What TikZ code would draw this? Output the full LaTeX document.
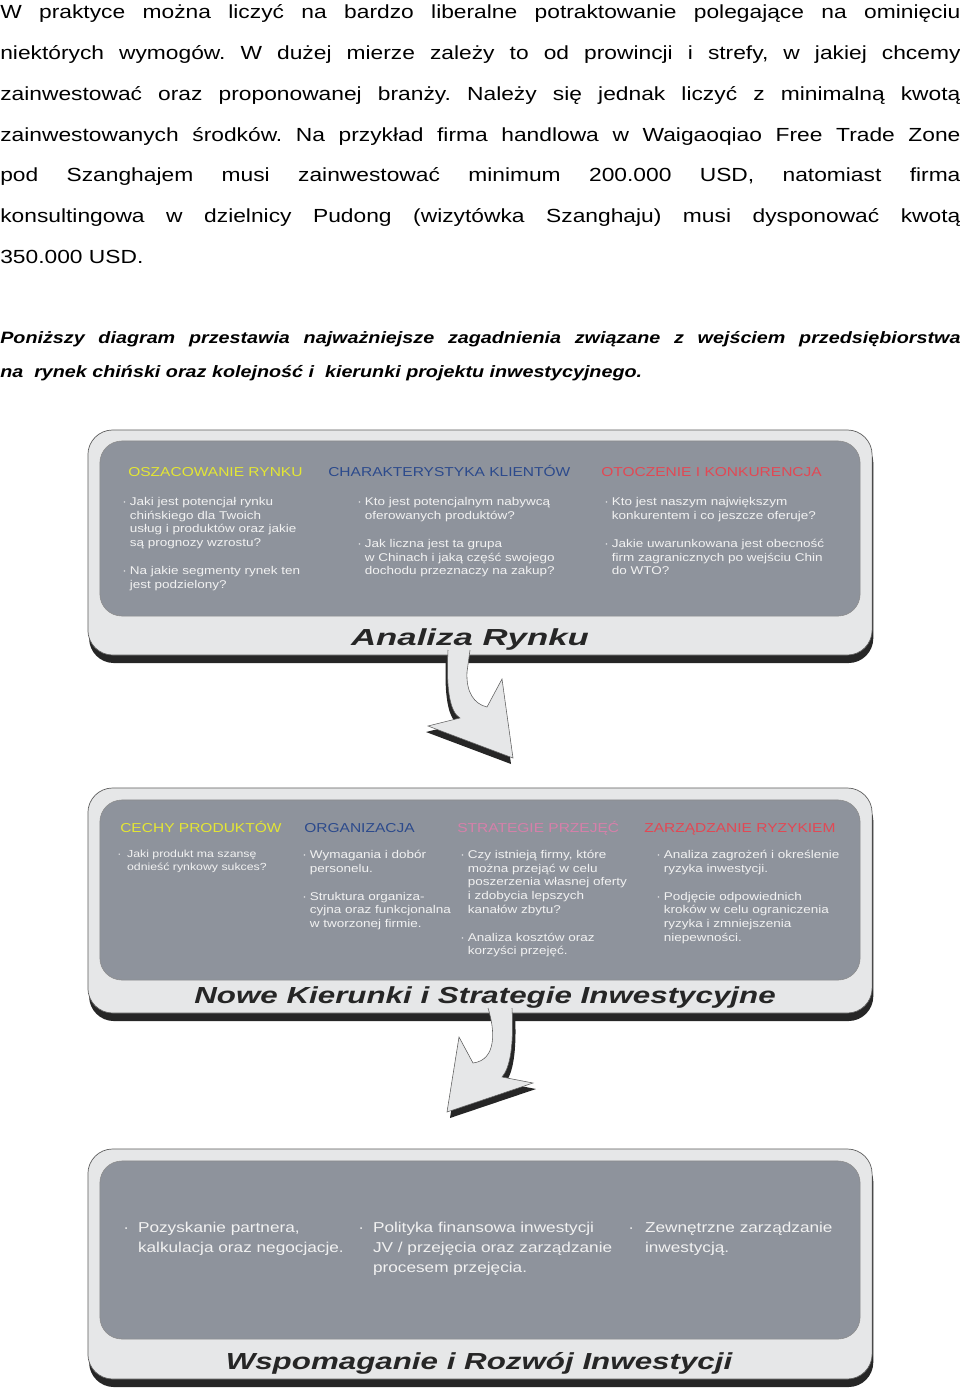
\documentclass[tikz,border=0pt]{standalone}
\usepackage{fontspec}
\setmainfont{Liberation Sans}[FakeStretch=1.2]
\newfontfamily\titlefont{Liberation Sans}[FakeStretch=1.35]
\newfontfamily\widetitlefont{Liberation Sans}[FakeStretch=1.5]
\usetikzlibrary{shadows}
\tolerance=9999
\hyphenpenalty=10000
\frenchspacing

\definecolor{panelLight}{RGB}{230,231,232}
\definecolor{panelDark}{RGB}{142,147,156}
\definecolor{rimGray}{RGB}{95,95,95}
\definecolor{headYellow}{RGB}{228,230,52}
\definecolor{headBlue}{RGB}{44,74,140}
\definecolor{headRed}{RGB}{226,72,84}
\definecolor{headPink}{RGB}{214,128,170}

% bullet dot and hanging indent for the questions
\newcommand\qdot[1][0.19cm]{\makebox[#1][l]{·}}
\newcommand\qind[1][0.19cm]{\hspace*{#1}}

\begin{document}
\begin{tikzpicture}[
  x=0.025cm, y=-0.025cm,
  bodyText/.style={anchor=north west, inner sep=0pt, text width=24cm, align=justify,
                   font=\fontsize{13.5}{29}\selectfont},
  leadText/.style={bodyText, font=\fontsize{11.7}{24.1}\selectfont\bfseries\itshape},
  outerBox/.style={draw=rimGray, line width=0.5pt, fill=panelLight, rounded corners=0.62cm,
                   minimum width=19.6cm,
                   drop shadow={shadow xshift=0.03cm, shadow yshift=-0.2cm, fill=black!85, opacity=1}},
  innerBox/.style={draw=black!45, line width=0.4pt, fill=panelDark, rounded corners=0.55cm,
                   minimum width=19cm},
  panelTitle/.style={anchor=base, inner sep=0pt, text=black!85,
                     font=\titlefont\fontsize{16.5}{20}\selectfont\bfseries\itshape},
  heading/.style={anchor=base west, inner sep=0pt, font=\fontsize{9.2}{11}\selectfont},
  question/.style={anchor=north west, inner sep=0pt, align=left, text=white!95!black,
                   font=\fontsize{8}{9.7}\selectfont},
  bigQuestion/.style={question, font=\fontsize{10.2}{14.2}\selectfont},
  arrowBody/.style={fill=panelLight, draw=rimGray, line width=0.4pt},
  arrowShadow/.style={fill=black!85},
]
\useasboundingbox (0,0) rectangle (960,1390);

% text above the diagram
\node[bodyText] (intro) at (0,4.5) {W praktyce można liczyć na bardzo liberalne potraktowanie polegające na ominięciu\linebreak
niektórych wymogów. W dużej mierze zależy to od prowincji i strefy, w jakiej chcemy\linebreak
zainwestować oraz proponowanej branży. Należy się jednak liczyć z minimalną kwotą\linebreak
zainwestowanych środków. Na przykład firma handlowa w Waigaoqiao Free Trade Zone\linebreak
pod Szanghajem musi zainwestować minimum 200.000 USD, natomiast firma\linebreak
konsultingowa w dzielnicy Pudong (wizytówka Szanghaju) musi dysponować kwotą\linebreak
350.000 USD.};
\node[leadText] (lead) at (0,331) {Poniższy diagram przestawia najważniejsze zagadnienia związane z wejściem przedsiębiorstwa\linebreak
na\ \ rynek chiński oraz kolejność i\ \ kierunki projektu inwestycyjnego.};

% panels
\node[outerBox, minimum height=5.625cm] (rynekPanel) at (480,542.5) {};
\node[innerBox, minimum height=4.375cm] (rynekInner) at (480,528.5) {};
\node[outerBox, minimum height=5.625cm] (strategiaPanel) at (480,900.5) {};
\node[innerBox, minimum height=4.5cm] (strategiaInner) at (480,890) {};
\node[outerBox, minimum height=5.75cm] (rozwojPanel) at (480,1264) {};
\node[innerBox, minimum height=4.45cm] (rozwojInner) at (480,1250) {};

% curved block arrows
\fill[arrowShadow, shift={(-2,6)}] (448,650) .. controls (446,690) and (450,712) .. (460,718)
  -- (428,726) -- (513,758) -- (502,679) -- (487,707)
  .. controls (474,704) and (466,692) .. (467,672) -- (470,650);
\filldraw[arrowBody] (448,650) .. controls (446,690) and (450,712) .. (460,718)
  -- (428,726) -- (513,758) -- (502,679) -- (487,707)
  .. controls (474,704) and (466,692) .. (467,672) -- (470,650);
\fill[arrowShadow, shift={(3,6)}] (488,1008) .. controls (495,1030) and (497,1060) .. (473,1063)
  -- (459,1037) -- (447,1112) -- (533,1083) -- (502,1077)
  .. controls (510,1068) and (514,1045) .. (512,1008);
\filldraw[arrowBody] (488,1008) .. controls (495,1030) and (497,1060) .. (473,1063)
  -- (459,1037) -- (447,1112) -- (533,1083) -- (502,1077)
  .. controls (510,1068) and (514,1045) .. (512,1008);

% panel 1
\node[heading, text=headYellow] (rynekHeadA) at (128,476.7) {OSZACOWANIE RYNKU};
\node[heading, text=headBlue]   (rynekHeadB) at (328,476.7) {CHARAKTERYSTYKA KLIENTÓW};
\node[heading, text=headRed]    (rynekHeadC) at (601,476.7) {OTOCZENIE I KONKURENCJA};
\node[question] (rynekQA) at (122,497) {\qdot Jaki jest potencjał rynku\\ \qind chińskiego dla Twoich\\
  \qind usług i produktów oraz jakie\\ \qind są prognozy wzrostu?\\[10.5pt]
  \qdot Na jakie segmenty rynek ten\\ \qind jest podzielony?};
\node[question] (rynekQB) at (357,497) {\qdot Kto jest potencjalnym nabywcą\\ \qind oferowanych produktów?\\[10.5pt]
  \qdot Jak liczna jest ta grupa\\ \qind w Chinach i jaką część swojego\\ \qind dochodu przeznaczy na zakup?};
\node[question] (rynekQC) at (604,497) {\qdot Kto jest naszym największym\\ \qind konkurentem i co jeszcze oferuje?\\[10.5pt]
  \qdot Jakie uwarunkowana jest obecność\\ \qind firm zagranicznych po wejściu Chin\\ \qind do WTO?};
\node[panelTitle, font=\widetitlefont\fontsize{16.5}{20}\selectfont\bfseries\itshape] (rynekTitle) at (470,645) {Analiza Rynku};

% panel 2
\node[heading, text=headYellow] (strategiaHeadA) at (120,832.7) {CECHY PRODUKTÓW};
\node[heading, text=headBlue]   (strategiaHeadB) at (304,832.7) {ORGANIZACJA};
\node[heading, text=headPink]   (strategiaHeadC) at (457,832.7) {STRATEGIE PRZEJĘĆ};
\node[heading, text=headRed]    (strategiaHeadD) at (644,832.7) {ZARZĄDZANIE RYZYKIEM};
\node[question, font=\fontsize{7.3}{9.4}\selectfont] (strategiaQA) at (117,850)
  {\qdot[0.16cm] Jaki produkt ma szansę\\ \qind[0.16cm] odnieść rynkowy sukces?};
\node[question] (strategiaQB) at (302,850) {\qdot Wymagania i dobór\\ \qind personelu.\\[10.3pt]
  \qdot Struktura organiza-\\ \qind cyjna oraz funkcjonalna\\ \qind w tworzonej firmie.};
\node[question] (strategiaQC) at (460,850) {\qdot Czy istnieją firmy, które\\ \qind można przejąć w celu\\
  \qind poszerzenia własnej oferty\\ \qind i zdobycia lepszych\\ \qind kanałów zbytu?\\[10.3pt]
  \qdot Analiza kosztów oraz\\ \qind korzyści przejęć.};
\node[question] (strategiaQD) at (656,850) {\qdot Analiza zagrożeń i określenie\\ \qind ryzyka inwestycji.\\[10.3pt]
  \qdot Podjęcie odpowiednich\\ \qind kroków w celu ograniczenia\\ \qind ryzyka i zmniejszenia\\ \qind niepewności.};
\node[panelTitle] (strategiaTitle) at (485,1003) {Nowe Kierunki i Strategie Inwestycyjne};

% panel 3
\node[bigQuestion] (rozwojQA) at (123,1222) {\qdot[0.25cm] Pozyskanie partnera,\\ \qind[0.25cm] kalkulacja oraz negocjacje.};
\node[bigQuestion] (rozwojQB) at (358,1222) {\qdot[0.25cm] Polityka finansowa inwestycji\\
  \qind[0.25cm] JV / przejęcia oraz zarządzanie\\ \qind[0.25cm] procesem przejęcia.};
\node[bigQuestion] (rozwojQC) at (628,1222) {\qdot[0.3cm] Zewnętrzne zarządzanie\\ \qind[0.3cm] inwestycją.};
\node[panelTitle] (rozwojTitle) at (479,1369) {Wspomaganie i Rozwój Inwestycji};
\end{tikzpicture}
\end{document}
